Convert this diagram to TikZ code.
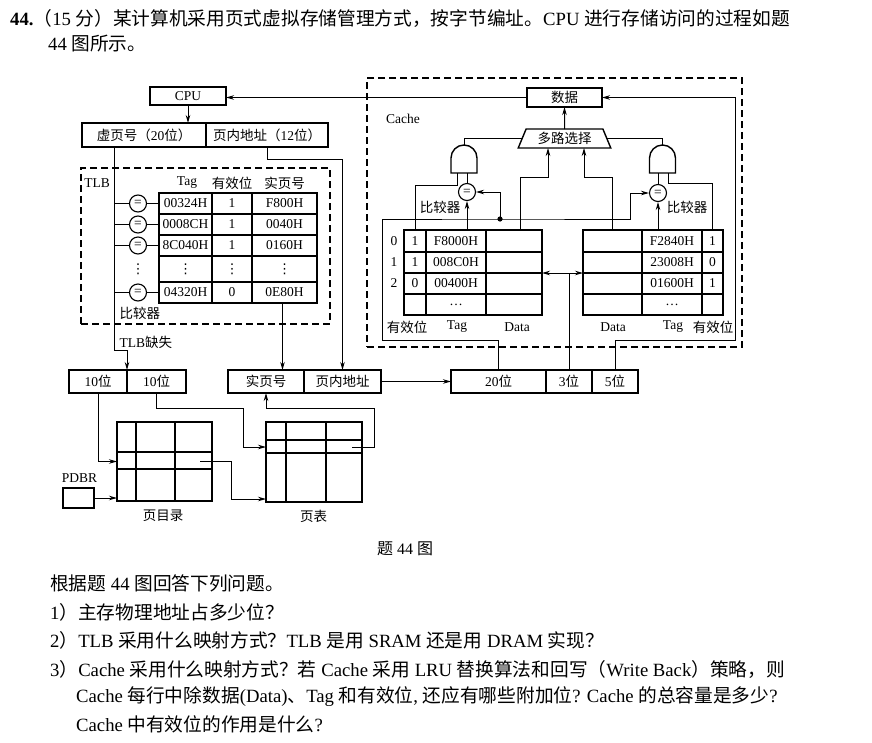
\documentclass[tikz,border=0pt]{standalone}
\usepackage{fontspec}
\setmainfont{Liberation Serif}
\newfontfamily\cjk{Noto Sans CJK SC}
\newfontfamily\symf{DejaVu Sans}
\usepackage{tikz}
\usetikzlibrary{arrows.meta,positioning,shapes.geometric}
\newcommand{\zh}[1]{{\cjk #1}}
\newcommand{\vd}{{\symf ⋮}}

\begin{document}
\begin{tikzpicture}[x=1pt, y=-1pt,
		font=\fontsize{13.5}{15}\selectfont,
		box/.style={draw, line width=1.4pt, inner sep=0pt, outer sep=0pt, minimum height=23pt},
		cell/.style={draw, line width=1.2pt, inner sep=0pt, outer sep=0pt},
		cmp/.style={circle, draw, line width=1.1pt, inner sep=0pt, minimum size=17pt},
		region/.style={draw, dash pattern=on 7pt off 4pt, line width=1.1pt, inner sep=0pt, outer sep=0pt},
		gate/.style={inner sep=0pt, outer sep=0pt, minimum width=26pt, minimum height=28pt},
		mux/.style={trapezium, draw, line width=1.4pt, trapezium stretches=true, trapezium angle=66,
			minimum width=93pt, minimum height=19pt, inner sep=0pt, outer sep=0pt},
		wire/.style={line width=1pt},
		arrow/.style={wire, -{Stealth[length=8pt,width=4.5pt]}},
		body/.style={anchor=west, inner sep=0pt, font=\fontsize{18.7}{21}\selectfont}
	]
		\path[fill=white, use as bounding box] (0,0) rectangle (872,742);

		% question text
		\node[body] (q0) at (10,18) {\textbf{44.}\zh{（}15 \zh{分）某计算机采用页式虚拟存储管理方式，按字节编址。}CPU \zh{进行存储访问的过程如题}};
		\node[body] (q0b) at (48,44) {44 \zh{图所示。}};

		% CPU and virtual address
		\node[box, minimum width=76pt, minimum height=18pt] (cpu) at (188,96) {CPU};
		\node[box, minimum width=124pt, minimum height=24pt] (vpn) at (144,135) {\zh{虚页号（}20\zh{位）}};
		\node[box, minimum width=122pt, minimum height=24pt, right=0pt of vpn] (voff) {\zh{页内地址（}12\zh{位）}};
		\coordinate (vtap) at ([xshift=-30pt]vpn.south);

		% TLB
		\node[region, minimum width=249pt, minimum height=156pt] (tlb) at (205.5,246) {};
		\node (tlbname) at (97,183) {TLB};
		\node (hdtag) at (187,183) {Tag};
		\node (hdval) at (232,183) {\zh{有效位}};
		\node (hdppn) at (284.5,183) {\zh{实页号}};
		\foreach \y/\h/\tg/\vb/\pg [count=\r] in {203.5/21/00324H/1/F800H, 224.5/21/0008CH/1/0040H,
				245.5/21/8C040H/1/0160H, 269/26/\vd/\vd/\vd, 292.5/21/04320H/0/0E80H}{
			\node[cell, minimum width=53, minimum height=\h] (tt\r) at (185.5,\y) {\tg};
			\node[cell, minimum width=40, minimum height=\h] (tv\r) at (232,\y) {\vb};
			\node[cell, minimum width=65, minimum height=\h] (tp\r) at (284.5,\y) {\pg};
			\ifnum\r=4
				\node[inner sep=0pt] (te\r) at (138,\y) {\vd};
			\else
				\node[cmp] (te\r) at (138,\y) {=};
				\draw[wire] (te\r.west -| vtap) -- (te\r.west);
				\draw[wire] (te\r.east) -- (tt\r.west);
			\fi
		}
		\node[anchor=west] (tlbcmp) at (116,313) {\zh{比较器}};
		\node[anchor=west] (tlbmiss) at (116,342) {TLB\zh{缺失}};

		% address fields
		\node[box, minimum width=58pt] (d1) at (98,381.5) {10\zh{位}};
		\node[box, minimum width=59pt, right=0pt of d1] (d2) {10\zh{位}};
		\node[box, minimum width=76pt] (ppn) at (266,381.5) {\zh{实页号}};
		\node[box, minimum width=77pt, right=0pt of ppn] (poff) {\zh{页内地址}};
		\node[box, minimum width=95pt] (tagf) at (498.5,381.5) {20\zh{位}};
		\node[box, minimum width=46pt, right=0pt of tagf] (idxf) {3\zh{位}};
		\node[box, minimum width=46pt, right=0pt of idxf] (bof) {5\zh{位}};

		% page directory and page table
		\node[cell, line width=1.4pt, minimum width=95, minimum height=79] (pdir) at (164.5,461.5) {};
		\foreach \dx in {19,58}
			\draw[line width=1.2pt] ([xshift=\dx]pdir.north west) -- ([xshift=\dx]pdir.south west);
		\foreach \dy in {30,47}
			\draw[line width=1.2pt] ([yshift=-\dy]pdir.north west) -- ([yshift=-\dy]pdir.north east);
		\node[cell, line width=1.4pt, minimum width=96, minimum height=80] (ptab) at (314,462) {};
		\foreach \dx in {20,60}
			\draw[line width=1.2pt] ([xshift=\dx]ptab.north west) -- ([xshift=\dx]ptab.south west);
		\foreach \dy in {18,31}
			\draw[line width=1.2pt] ([yshift=-\dy]ptab.north west) -- ([yshift=-\dy]ptab.north east);
		\node[box, minimum width=31pt, minimum height=20pt] (pdbr) at (78.5,498) {};
		\node (pdbrname) at (79.5,478) {PDBR};
		\node (pdirname) at (163,516) {\zh{页目录}};
		\node (ptabname) at (313.5,516) {\zh{页表}};

		% cache
		\node[region, minimum width=375pt, minimum height=269pt] (cache) at (554.5,212.5) {};
		\node (cachename) at (403,119) {Cache};
		\node[box, minimum width=75pt, minimum height=19pt] (data) at (564.5,97.5) {\zh{数据}};
		\node[mux] (mux) at (564.5,138.5) {\zh{多路选择}};
		\node[gate] (andL) at (464,159) {};
		\node[gate] (andR) at (662.5,159) {};
		\foreach \g in {andL,andR}
			\draw[line width=1.4pt] (\g.south west) -- ++(0,-15) arc[start angle=180, end angle=0, radius=13pt] -- (\g.south east) -- cycle;
		\node[cmp] (eqL) at (467,192) {=};
		\node[cmp] (eqR) at (658,193) {=};
		\node (cmpL) at (440,207) {\zh{比较器}};
		\node (cmpR) at (687,207) {\zh{比较器}};
		\foreach \y/\h/\vl/\tg/\tgr/\vr [count=\r] in {241/22/1/F8000H/F2840H/1, 262.5/21/1/008C0H/23008H/0,
				283.5/21/0/00400H/01600H/1, 304.5/21/{}/{\dots}/{\dots}/{}}{
			\node[cell, minimum width=22, minimum height=\h] (lv\r) at (415,\y) {\vl};
			\node[cell, minimum width=60, minimum height=\h] (lt\r) at (456,\y) {\tg};
			\node[cell, minimum width=56, minimum height=\h] (ld\r) at (514,\y) {};
			\node[cell, minimum width=59, minimum height=\h] (rd\r) at (612.5,\y) {};
			\node[cell, minimum width=60, minimum height=\h] (rt\r) at (672,\y) {\tgr};
			\node[cell, minimum width=21, minimum height=\h] (rv\r) at (712.5,\y) {\vr};
			\ifnum\r<4
				\node (row\r) at (394,\y) {\the\numexpr\r-1\relax};
			\fi
		}
		\node (lvname) at (407,327) {\zh{有效位}};
		\node (ltname) at (457,327) {Tag};
		\node (ldname) at (517,327) {Data};
		\node (rdname) at (613,327) {Data};
		\node (rtname) at (673,327) {Tag};
		\node (rvname) at (713,327) {\zh{有效位}};

		% caption and questions
		\node[font=\fontsize{16}{18}\selectfont] (cap) at (405,549) {\zh{题} 44 \zh{图}};
		\node[body] (qa) at (50,583) {\zh{根据题} 44 \zh{图回答下列问题。}};
		\node[body] (q1) at (50,612) {1\zh{）主存物理地址占多少位？}};
		\node[body] (q2) at (50,640) {2\zh{）}TLB \zh{采用什么映射方式？}TLB \zh{是用} SRAM \zh{还是用} DRAM \zh{实现？}};
		\node[body] (q3) at (50,669) {3\zh{）}Cache \zh{采用什么映射方式？若} Cache \zh{采用} LRU \zh{替换算法和回写（}Write Back\zh{）策略，则}};
		\node[body] (q3b) at (76,697) {Cache \zh{每行中除数据}(Data)\zh{、}Tag \zh{和有效位}, \zh{还应有哪些附加位}? Cache \zh{的总容量是多少}?};
		\node[body] (q3c) at (76,724) {Cache \zh{中有效位的作用是什么}?};

		% translation path
		\draw[arrow] (cpu.south) -- (cpu.south |- vpn.north);
		\draw[arrow] (vtap) -- ++(0,203) -| (d1.north east);
		\draw[arrow] (voff.south) -- ++(0,12) -| (poff.north);
		\draw[arrow] ([xshift=-2pt]tp5.south) -- ([xshift=-2pt]tp5.south |- ppn.north);
		\draw[arrow] (poff) -- (tagf);
		\draw[arrow] (d1.south) |- (pdir.west);
		\draw[arrow] (pdbr.east) -- (pdbr.east -| pdir.west);
		\coordinate (pte) at ([yshift=15pt]ptab.west);
		\coordinate (ptr) at ([xshift=-10pt,yshift=15pt]ptab.east);
		\draw[arrow] (d2.south) -- ++(0,15) -| ([xshift=-23pt]pte) -- (pte);
		\draw[arrow] ([xshift=-12pt]pdir.east) -- ++(31,0) |- ([yshift=3pt]ptab.south west);
		\draw[arrow] (ptr) -- ++(22,0) -- ++(0,-39) -| (ppn.south);

		% cache access
		\draw[arrow] (tagf.north) -- ++(0,-30) -| ++(-116.5,-121) -- ++(118,0) coordinate (tap) -- ++(130,0) |- (eqR.west);
		\fill (tap) circle[radius=2.6pt];
		\draw[arrow] (tap) |- (eqL.east);
		\draw[arrow] (eqL |- lt1.north) -- (eqL.south);
		\draw[arrow] (eqR |- rt1.north) -- (eqR.south);
		\draw[wire] (eqL.north) -- (eqL.north |- andL.south);
		\draw[wire] (eqR.north) -- (eqR.north |- andR.south);
		\draw[wire] (lv1.north) -- ++(0,-45) -| ([xshift=-7pt]andL.south);
		\draw[wire] (rv1.north) -- ++(0,-47) -| ([xshift=5.5pt]andR.south);
		\draw[wire] (andL.north) |- (mux.west);
		\draw[wire] (andR.north) |- (mux.east);
		\draw[arrow] ([xshift=6pt]ld1.north) -- ++(0,-53) -| ([xshift=-16.5pt]mux.south);
		\draw[arrow] (rd1.north) -- ++(0,-53) -| ([xshift=19.5pt]mux.south);
		\draw[arrow] (mux.north) -- (data.south);
		\draw[arrow] (data.west) -- (data.west -| cpu.east);
		\coordinate (ix) at (idxf.north |- lt2.south);
		\draw[wire] (idxf.north) -- (ix);
		\draw[arrow] (ix) -- (ix -| ld2.east);
		\draw[arrow] (ix) -- (ix -| rd2.west);
		\draw[arrow] (bof.north) -- ++(0,-30) -- ++(120,0) |- (data.east);
	\end{tikzpicture}
\end{document}
